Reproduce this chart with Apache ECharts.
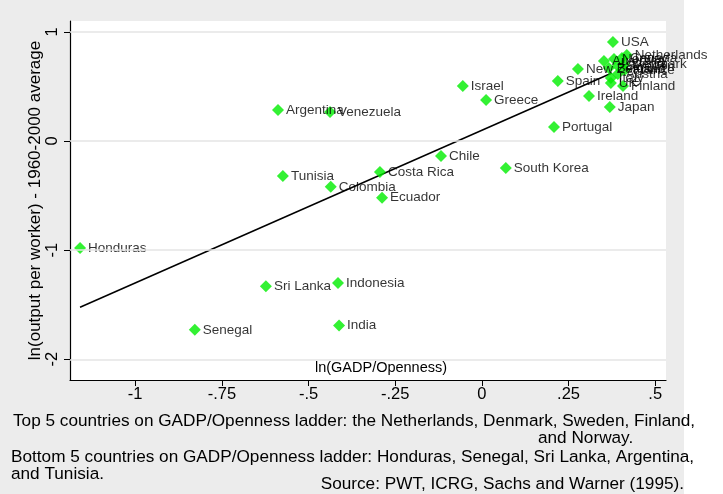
<!DOCTYPE html>
<html>
<head>
<meta charset="utf-8">
<script src="https://cdn.jsdelivr.net/npm/echarts@6/dist/echarts.min.js"></script>
<style>
  html, body { margin: 0; padding: 0; background: #ffffff; }
  #chart { width: 723px; height: 494px; }
</style>
</head>
<body>
<div id="chart"></div>
<script>
// Countries and their positions: ln(GADP/Openness) vs ln(output per worker), relative to 1960-2000 average
var countries = [
  'Honduras', 'Senegal', 'Sri Lanka', 'Indonesia', 'India',
  'Argentina', 'Venezuela', 'Tunisia', 'Colombia', 'Costa Rica',
  'Ecuador', 'Chile', 'Israel', 'Greece', 'South Korea',
  'Portugal', 'Spain', 'Ireland', 'Japan', 'New Zealand',
  'USA', 'Netherlands', 'Canada', 'Norway', 'Australia',
  'Denmark', 'Sweden', 'Belgium', 'France', 'Austria',
  'Italy', 'UK', 'Finland'
];
var gadpOpenness = [
  -1.159, -0.828, -0.623, -0.415, -0.412,
  -0.588, -0.438, -0.574, -0.436, -0.294,
  -0.288, -0.118, -0.055, 0.012, 0.069,
  0.208, 0.219, 0.309, 0.369, 0.277,
  0.378, 0.418, 0.404, 0.381, 0.352,
  0.410, 0.392, 0.366, 0.412, 0.392,
  0.372, 0.372, 0.407
];
var outputPerWorker = [
  -0.98, -1.73, -1.33, -1.30, -1.69,
  0.284, 0.266, -0.32, -0.42, -0.284,
  -0.52, -0.138, 0.505, 0.376, -0.248,
  0.128, 0.55, 0.413, 0.312, 0.66,
  0.908, 0.789, 0.761, 0.752, 0.734,
  0.706, 0.688, 0.67, 0.651, 0.615,
  0.578, 0.532, 0.505
];

// Fitted regression line endpoints
var fitX = [-1.159, 0.375];
var fitY = [-1.523, 0.624];

// Tick labels
var xTicks = [-1, -0.75, -0.5, -0.25, 0, 0.25, 0.5];
var xTickLabels = ['-1', '-.75', '-.5', '-.25', '0', '.25', '.5'];
var yTicks = [-2, -1, 0, 1];
var yTickLabels = ['-2', '-1', '0', '1'];

var notes = [
  'Top 5 countries on GADP/Openness ladder: the Netherlands, Denmark, Sweden, Finland,',
  'and Norway.',
  'Bottom 5 countries on GADP/Openness ladder: Honduras, Senegal, Sri Lanka, Argentina,',
  'and Tunisia.',
  'Source: PWT, ICRG, Sachs and Warner (1995).'
];

var FONT = '"Liberation Sans", Arial, Helvetica, sans-serif';

var points = countries.map(function (c, i) {
  return { name: c, value: [gadpOpenness[i], outputPerWorker[i]] };
});
var fitLine = fitX.map(function (x, i) { return [x, fitY[i]]; });

function fmt(list, labels) {
  return function (v) {
    for (var i = 0; i < list.length; i++) {
      if (Math.abs(list[i] - v) < 1e-9) return labels[i];
    }
    return '';
  };
}

var chart = echarts.init(document.getElementById('chart'), null, { renderer: 'canvas' });

var noteStyle = { fill: '#000', font: '17.2px ' + FONT, textVerticalAlign: 'middle' };

chart.setOption({
  backgroundColor: '#ffffff',
  animation: false,
  graphic: [
    { type: 'rect', z: -10, shape: { x: 0, y: 0, width: 684, height: 494 }, style: { fill: '#ececec' } },
    { type: 'text', x: 13, y: 421, style: Object.assign({ text: notes[0] }, noteStyle) },
    { type: 'text', x: 538, y: 438, style: Object.assign({ text: notes[1] }, noteStyle) },
    { type: 'text', x: 11, y: 457, style: Object.assign({ text: notes[2] }, noteStyle) },
    { type: 'text', x: 11, y: 474, style: Object.assign({ text: notes[3] }, noteStyle) },
    { type: 'text', x: 684, y: 484, style: Object.assign({ text: notes[4], textAlign: 'right' }, noteStyle) },
    { type: 'text', x: 381, y: 368, style: { text: 'ln(GADP/Openness)', fill: '#000', font: '14.5px ' + FONT, textAlign: 'center', textVerticalAlign: 'middle' } }
  ],
  grid: {
    left: 70, top: 21, width: 596, height: 359,
    show: true, backgroundColor: '#ffffff', borderWidth: 0
  },
  xAxis: {
    type: 'value', min: -1.188, max: 0.531,
    axisLine: { show: true, onZero: false, lineStyle: { color: '#000', width: 1.2 } },
    axisTick: { show: true, length: 6, customValues: xTicks, lineStyle: { color: '#000' } },
    axisLabel: { customValues: xTicks, formatter: fmt(xTicks, xTickLabels), color: '#000', fontSize: 16.5, fontFamily: FONT, margin: 6 },
    splitLine: { show: false }
  },
  yAxis: {
    type: 'value', min: -2.19, max: 1.10,
    name: 'ln(output per worker) - 1960-2000 average',
    nameLocation: 'middle', nameGap: 26, nameRotate: 90, nameMoveOverlap: false,
    nameTextStyle: { color: '#000', fontSize: 17, fontFamily: FONT },
    axisLine: { show: true, onZero: false, lineStyle: { color: '#000', width: 1.2 } },
    axisTick: { show: true, length: 6, customValues: yTicks, lineStyle: { color: '#000' } },
    axisLabel: { customValues: yTicks, formatter: fmt(yTicks, yTickLabels), rotate: 90, color: '#000', fontSize: 16.5, fontFamily: FONT, margin: 9 },
    splitLine: { show: false }
  },
  series: [
    {
      type: 'scatter', data: [], z: 1, silent: true,
      markLine: {
        silent: true, symbol: ['none', 'none'], label: { show: false },
        lineStyle: { color: '#e4e4e4', width: 1.5, type: 'solid' },
        data: yTicks.map(function (v) { return { yAxis: v }; })
      }
    },
    {
      type: 'line', data: fitLine, z: 3, symbol: 'none', silent: true,
      lineStyle: { color: '#000', width: 1.5 }
    },
    {
      type: 'scatter', data: points, z: 4,
      symbol: 'diamond', symbolSize: 12,
      itemStyle: { color: '#00ee00' },
      label: {
        show: true, position: 'right', distance: 2,
        formatter: '{b}', color: '#000', fontSize: 13.5, fontFamily: FONT
      },
      labelLayout: { hideOverlap: false }
    }
  ]
});
</script>
</body>
</html>
